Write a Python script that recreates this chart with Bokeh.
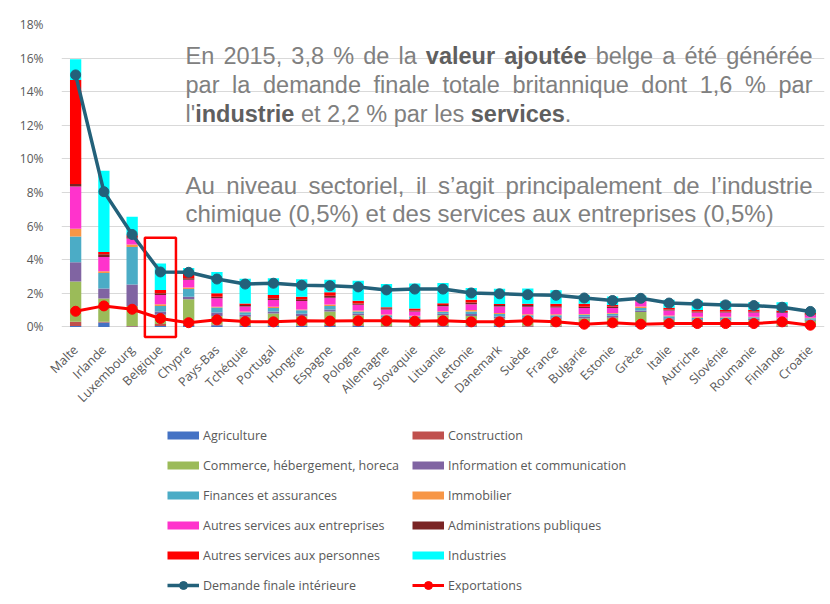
import math
from bokeh.plotting import figure
from bokeh.layouts import column
from bokeh.models import (ColumnDataSource, FactorRange, Range1d, FixedTicker,
                          Legend, LegendItem, Label)
from bokeh.embed import file_html
from bokeh.resources import INLINE

# ---------------- data (% of Belgian value added) ----------------
countries = ["Malte", "Irlande", "Luxembourg", "Belgique", "Chypre", "Pays-Bas",
             "Tchéquie", "Portugal", "Hongrie", "Espagne", "Pologne", "Allemagne",
             "Slovaquie", "Lituanie", "Lettonie", "Danemark", "Suède", "France",
             "Bulgarie", "Estonie", "Grèce", "Italie", "Autriche", "Slovénie",
             "Roumanie", "Finlande", "Croatie"]

agriculture = [0.05, 0.26, 0.02, 0.05, 0.05, 0.10, 0.05, 0.05, 0.05, 0.05, 0.05, 0.02, 0.03, 0.04,
               0.04, 0.05, 0.03, 0.03, 0.04, 0.03, 0.05, 0.03, 0.03, 0.03, 0.04, 0.03, 0.03]
construction = [0.25, 0.04, 0.03, 0.12, 0.10, 0.05, 0.05, 0.05, 0.04, 0.07, 0.05, 0.04, 0.04, 0.06,
                0.06, 0.05, 0.05, 0.05, 0.06, 0.06, 0.04, 0.05, 0.04, 0.05, 0.05, 0.04, 0.04]
commerce = [2.40, 1.39, 1.20, 0.55, 1.50, 0.50, 0.50, 0.70, 0.55, 0.80, 0.60, 0.40, 0.35, 0.60,
            0.55, 0.40, 0.35, 0.40, 0.40, 0.45, 0.80, 0.35, 0.30, 0.30, 0.30, 0.25, 0.30]
information = [1.15, 0.60, 1.27, 0.20, 0.15, 0.20, 0.12, 0.12, 0.15, 0.12, 0.10, 0.10, 0.08, 0.08,
               0.12, 0.12, 0.12, 0.10, 0.10, 0.12, 0.08, 0.08, 0.08, 0.08, 0.10, 0.10, 0.06]
finances = [1.53, 0.92, 2.24, 0.33, 0.45, 0.30, 0.15, 0.20, 0.20, 0.20, 0.12, 0.13, 0.12, 0.10,
            0.15, 0.15, 0.15, 0.12, 0.12, 0.12, 0.15, 0.12, 0.10, 0.10, 0.08, 0.08, 0.08]
immobilier = [0.46, 0.10, 0.14, 0.10, 0.10, 0.05, 0.05, 0.08, 0.05, 0.10, 0.05, 0.05, 0.04, 0.05,
              0.08, 0.05, 0.05, 0.05, 0.05, 0.05, 0.10, 0.05, 0.05, 0.05, 0.04, 0.04, 0.04]
services_entreprises = [2.52, 0.85, 0.36, 0.55, 0.45, 0.50, 0.30, 0.40, 0.50, 0.40, 0.35, 0.30, 0.25, 0.30,
                        0.35, 0.40, 0.45, 0.40, 0.35, 0.30, 0.30, 0.30, 0.25, 0.25, 0.25, 0.30, 0.15]
administrations = [0.14, 0.16, 0.08, 0.10, 0.10, 0.10, 0.08, 0.10, 0.10, 0.12, 0.08, 0.07, 0.06, 0.08,
                   0.10, 0.08, 0.10, 0.08, 0.08, 0.08, 0.08, 0.06, 0.06, 0.06, 0.06, 0.05, 0.04]
services_personnes = [6.20, 0.14, 0.12, 0.20, 0.30, 0.20, 0.10, 0.20, 0.15, 0.20, 0.15, 0.06, 0.12, 0.10,
                      0.17, 0.07, 0.08, 0.15, 0.18, 0.10, 0.10, 0.10, 0.10, 0.10, 0.10, 0.08, 0.08]
industries = [1.23, 4.84, 1.09, 1.57, 0.30, 1.27, 1.47, 1.00, 1.05, 0.74, 1.19, 1.39, 1.50, 1.20,
              0.70, 0.90, 0.90, 0.80, 0.50, 0.50, 0.16, 0.48, 0.55, 0.49, 0.45, 0.50, 0.20]

demande_finale_interieure = [15.00, 8.05, 5.50, 3.27, 3.25, 2.85, 2.55, 2.60, 2.48, 2.45, 2.38, 2.20,
                             2.25, 2.25, 2.02, 1.97, 1.92, 1.88, 1.72, 1.57, 1.70, 1.42, 1.36, 1.31,
                             1.27, 1.17, 0.92]
exportations = [0.93, 1.25, 1.05, 0.50, 0.25, 0.42, 0.32, 0.30, 0.36, 0.35, 0.36, 0.36, 0.34, 0.36,
                0.30, 0.30, 0.36, 0.30, 0.16, 0.24, 0.16, 0.20, 0.20, 0.20, 0.20, 0.30, 0.10]

series_keys = ["agriculture", "construction", "commerce", "information", "finances",
               "immobilier", "services_entreprises", "administrations",
               "services_personnes", "industries"]
series_labels = ["Agriculture", "Construction", "Commerce, hébergement, horeca",
                 "Information et communication", "Finances et assurances", "Immobilier",
                 "Autres services aux entreprises", "Administrations publiques",
                 "Autres services aux personnes", "Industries"]
series_colors = ["#4472C4", "#C0504D", "#9BBB59", "#8064A2", "#4BACC6", "#F79646",
                 "#FF33CC", "#7A2424", "#FF0000", "#00FFFF"]
line_labels = ["Demande finale intérieure", "Exportations"]
dfi_color = "#23617A"
exp_color = "#FF0000"

y_ticks = [0, 2, 4, 6, 8, 10, 12, 14, 16, 18]
y_tick_labels = ["0%", "2%", "4%", "6%", "8%", "10%", "12%", "14%", "16%", "18%"]

highlight_country = "Belgique"

# ---------------- main chart ----------------
W = 830
H_TOP, H_LEG = 420, 184
FRAME_L, FRAME_T, FRAME_R = 61, 24, 6
frame_bottom = 339
FRAME_B = H_TOP - frame_bottom

source = ColumnDataSource(dict(
    country=countries, agriculture=agriculture, construction=construction,
    commerce=commerce, information=information, finances=finances,
    immobilier=immobilier, services_entreprises=services_entreprises,
    administrations=administrations, services_personnes=services_personnes,
    industries=industries, dfi=demande_finale_interieure, exp=exportations))

p = figure(width=W, height=H_TOP, x_range=FactorRange(*countries),
           y_range=Range1d(-0.75, 18.0), output_backend="svg",
           toolbar_location=None, min_border_left=FRAME_L, min_border_right=FRAME_R,
           min_border_top=FRAME_T, min_border_bottom=FRAME_B)
p.outline_line_color = None
p.background_fill_color = "white"
p.border_fill_color = "white"

p.vbar_stack(series_keys, x="country", width=0.4, source=source,
             fill_color=series_colors, line_color=None)

p.line(x="country", y="dfi", source=source, line_color=dfi_color, line_width=3.5)
p.scatter(x="country", y="dfi", source=source, size=10,
          fill_color=dfi_color, line_color=dfi_color)
p.line(x="country", y="exp", source=source, line_color=exp_color, line_width=3)
p.scatter(x="country", y="exp", source=source, size=10,
          fill_color=exp_color, line_color=exp_color)

# highlight box around Belgium
p.rect(x=[highlight_country], y=[(5.3 + -0.6) / 2], width=1.1, height=5.9,
       fill_color=None, line_color="#FF0000", line_width=2.5)

# axes
p.xgrid.grid_line_color = None
p.ygrid.grid_line_color = "#D9D9D9"
p.ygrid.grid_line_width = 1
p.yaxis.ticker = FixedTicker(ticks=y_ticks)
p.yaxis.major_label_overrides = {t: l for t, l in zip(y_ticks, y_tick_labels)}
for ax in (p.xaxis[0], p.yaxis[0]):
    ax.axis_line_color = None
    ax.major_tick_line_color = None
    ax.minor_tick_line_color = None
    ax.major_label_text_color = "#595959"
    ax.major_label_text_font = "Open Sans"
p.yaxis.major_label_text_font_size = "12px"
p.yaxis.major_label_standoff = 12
p.xaxis.major_label_text_font_size = "12.5px"
p.xaxis.major_label_orientation = math.pi / 4
p.xaxis.major_label_standoff = 2

# ---------------- annotation text (justified) ----------------
REG = {' ': 278, '%': 889, "'": 191, '’': 222, '(': 333, ')': 333, ',': 278, '.': 278,
       'A': 667, 'E': 667, 'a': 556, 'b': 556, 'c': 500, 'd': 556, 'e': 556, 'é': 556,
       'f': 278, 'g': 556, 'h': 556, 'i': 222, 'j': 222, 'k': 500, 'l': 222, 'm': 833,
       'n': 556, 'o': 556, 'p': 556, 'q': 556, 'r': 333, 's': 500, 't': 278, 'u': 556,
       'v': 500, 'x': 500, 'y': 500, 'z': 500}
BOLD = {' ': 278, '.': 278, 'a': 556, 'c': 556, 'd': 611, 'e': 556, 'é': 556, 'i': 278,
        'j': 278, 'l': 278, 'n': 611, 'o': 611, 'r': 389, 's': 556, 't': 333, 'u': 611,
        'v': 556}


def run_width(txt, bold, fs):
    tab = BOLD if bold else REG
    return sum(tab.get(ch, 556) for ch in txt) * fs / 1000.0


def words(s):
    return [[(w, False)] for w in s.split(" ")]


para1_fs = 23.5
para2_fs = 24
lines = [
    ([[("En", 0)], [("2015,", 0)], [("3,8", 0)], [("%", 0)], [("de", 0)], [("la", 0)],
      [("valeur", 1)], [("ajoutée", 1)], [("belge", 0)], [("a", 0)], [("été", 0)],
      [("générée", 0)]], 55, para1_fs, True),
    (words("par la demande finale totale britannique dont 1,6 % par"), 84, para1_fs, True),
    ([[("l'", 0), ("industrie", 1)], [("et", 0)], [("2,2", 0)], [("%", 0)], [("par", 0)],
      [("les", 0)], [("services", 1), (".", 0)]], 113, para1_fs, False),
    (words("Au niveau sectoriel, il s’agit principalement de l’industrie"), 185, para2_fs, True),
    (words("chimique (0,5%) et des services aux entreprises (0,5%)"), 213, para2_fs, False),
]
TX0, TX1 = 185, 812
for wl, base, fs, justify in lines:
    widths = [sum(run_width(t, b, fs) for t, b in w) for w in wl]
    if justify:
        gap = (TX1 - TX0 - sum(widths)) / (len(wl) - 1)
    else:
        gap = REG[' '] * fs / 1000.0
    x = TX0
    for w, wd in zip(wl, widths):
        rx = x
        for t, b in w:
            p.add_layout(Label(x=rx - FRAME_L, y=frame_bottom - base, x_units="screen",
                               y_units="screen", text=t, text_font="Liberation Sans",
                               text_font_size=f"{fs}px",
                               text_font_style="bold" if b else "normal",
                               text_color="#5F5F5F" if b else "#808080",
                               text_baseline="alphabetic", text_align="left"))
            rx += run_width(t, b, fs)
        x += wd + gap

# ---------------- legend panel ----------------
q = figure(width=W, height=H_LEG, x_range=Range1d(0, 1), y_range=Range1d(0, 1),
           output_backend="svg", toolbar_location=None, min_border=0,
           min_border_left=FRAME_L, min_border_right=FRAME_R)
q.axis.visible = False
q.grid.visible = False
q.outline_line_color = None
q.background_fill_color = "white"
q.border_fill_color = "white"

# legend proxies placed outside the visible range (only their legend glyphs show)
OFF_X, OFF_Y = [-5, -4], [-5, -5]
swatches = [q.line(x=OFF_X, y=OFF_Y, line_color=c, line_width=8) for c in series_colors]
items = [LegendItem(label=l, renderers=[r]) for l, r in zip(series_labels, swatches)]
ld = [q.line(x=OFF_X, y=OFF_Y, line_color=dfi_color, line_width=3.5),
      q.scatter(x=OFF_X, y=OFF_Y, size=10, fill_color=dfi_color, line_color=dfi_color)]
le = [q.line(x=OFF_X, y=OFF_Y, line_color=exp_color, line_width=3),
      q.scatter(x=OFF_X, y=OFF_Y, size=10, fill_color=exp_color, line_color=exp_color)]
items.append(LegendItem(label=line_labels[0], renderers=ld))
items.append(LegendItem(label=line_labels[1], renderers=le))
col1 = items[0::2]
col2 = items[1::2]
leg_h = 6 * 20 + 5 * 10
leg_top = 425 - H_TOP
leg_y = H_LEG - leg_top - leg_h
for its, xpos in ((col1, 167), (col2, 412)):
    lg = Legend(items=its, location=(xpos - FRAME_L, leg_y), orientation="vertical",
                glyph_width=32, glyph_height=20, label_height=20, spacing=10,
                label_standoff=4, padding=0, margin=0, border_line_color=None,
                background_fill_alpha=0, label_text_font="Open Sans",
                label_text_font_size="12.5px", label_text_color="#595959")
    q.add_layout(lg)

layout = column(p, q, spacing=0)
open("out.html", "w").write(file_html(layout, INLINE))
